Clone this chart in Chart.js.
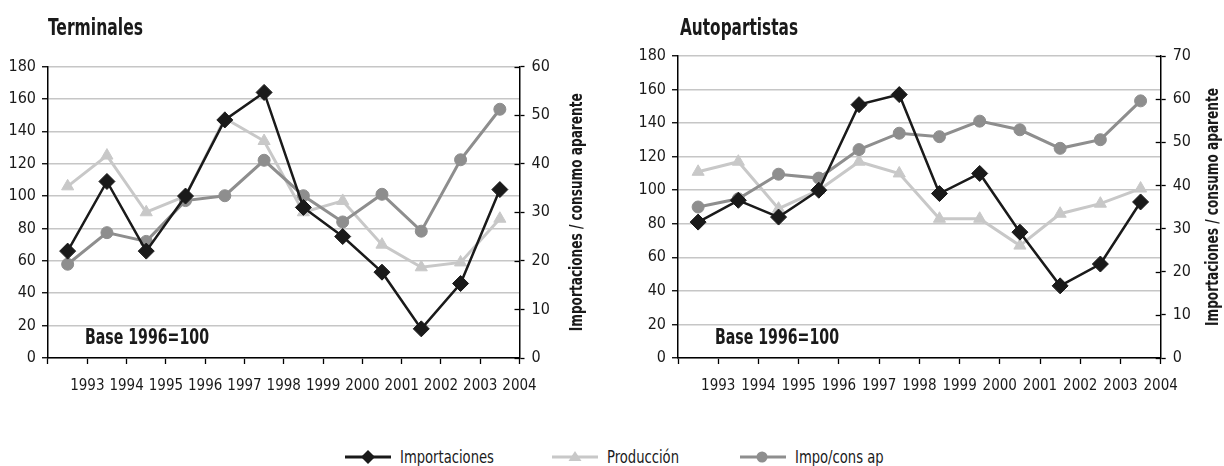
<!DOCTYPE html>
<html>
<head>
<meta charset="utf-8">
<script src="https://cdn.jsdelivr.net/npm/chart.js@4"></script>
<style>
  html, body { margin:0; padding:0; background:#fff; }
  body { width:1224px; height:466px; position:relative; overflow:hidden;
         font-family:'DejaVu Sans Condensed','Liberation Sans',sans-serif; }
  canvas { position:absolute; top:0; }
  #legend { position:absolute; left:0; top:445px; width:1224px; height:24px; }
  .li { position:absolute; top:0; height:24px; display:flex; align-items:center; font-size:17px; color:#1a1a1a; white-space:nowrap; }
  .li svg { margin-right:9px; flex:none; }
  .li span { display:inline-block; transform:scaleX(0.86); transform-origin:left center; }
</style>
</head>
<body>
<canvas id="c1" width="612" height="400" style="left:0"></canvas>
<canvas id="c2" width="612" height="400" style="left:612px"></canvas>
<div id="legend"></div>
<script>
// ---------- DATA ----------
const years = ['1993','1994','1995','1996','1997','1998','1999','2000','2001','2002','2003','2004'];
const seriesNames = ['Importaciones','Producción','Impo/cons ap'];

const termTitle = 'Terminales';
const termImport = [66, 109, 66, 100, 147, 164, 93, 75, 53, 18, 46, 104];
const termProd   = [106, 125, 90, 100, 148, 134, 90, 97, 70, 56, 59, 86];
const termRatio  = [19.3, 25.8, 24.0, 32.4, 33.4, 40.7, 33.4, 28.0, 33.7, 26.1, 40.8, 51.2];

const autoTitle = 'Autopartistas';
const autoImport = [81, 94, 84, 100, 151, 157, 98, 110, 75, 43, 56, 93];
const autoProd   = [111, 117, 89, 100, 117, 110, 83, 83, 67, 86, 92, 101];
const autoRatio  = [35.0, 36.9, 42.6, 41.7, 48.3, 52.1, 51.3, 54.9, 52.9, 48.6, 50.6, 59.6];

const leftTicks = {min:0, max:180, step:20};
const termRightTicks = {min:0, max:60, step:10};
const autoRightTicks = {min:0, max:70, step:10};
const baseNote = 'Base 1996=100';
const rightAxisTitle = 'Importaciones / consumo aparente';

// ---------- STYLE ----------
const FONT = "'DejaVu Sans Condensed','Liberation Sans',sans-serif";
const C_IMP = '#1a1a1a', C_PROD = '#c8c8c8', C_RATIO = '#8e8e8e', C_GRID = '#c6c6c6';
Chart.defaults.font.family = FONT;
Chart.defaults.color = '#1a1a1a';

const panelText = {
  id: 'panelText',
  afterDraw(chart, args, o) {
    const {ctx, chartArea: a, scales} = chart;
    ctx.save();
    ctx.fillStyle = '#1a1a1a';
    ctx.textBaseline = 'alphabetic';
    ctx.textAlign = 'left';
    ctx.font = 'bold 23px ' + FONT;
    ctx.fillText(o.title, a.left + o.titleDx, 35, o.titleW);
    ctx.font = 'bold 21px ' + FONT;
    ctx.fillText(baseNote, a.left + 37, 344, 124);
    ctx.translate(o.axisTitleX, (a.top + a.bottom) / 2);
    ctx.rotate(-Math.PI / 2);
    ctx.textAlign = 'center';
    ctx.textBaseline = 'middle';
    ctx.font = 'bold 18px ' + FONT;
    ctx.fillText(rightAxisTitle, 0, 0, 238);
    ctx.restore();
    // inner half of the crossing ticks on the right axis
    const y1 = scales.y1;
    ctx.save();
    ctx.strokeStyle = '#000';
    ctx.lineWidth = 1.3;
    y1.ticks.forEach((t, i) => {
      const y = Math.round(y1.getPixelForTick(i)) + 0.5;
      ctx.beginPath(); ctx.moveTo(y1.left - 5, y); ctx.lineTo(y1.left, y); ctx.stroke();
    });
    ctx.restore();
  }
};

function makeChart(id, imp, prod, ratio, rt, geo, title) {
  return new Chart(document.getElementById(id), {
    type: 'line',
    data: {
      labels: years,
      datasets: [
        { label: seriesNames[0], data: imp, yAxisID: 'y', order: 0,
          borderColor: C_IMP, backgroundColor: C_IMP, borderWidth: 2.5,
          pointStyle: 'rectRot', pointRadius: 8, pointBorderWidth: 1, tension: 0 },
        { label: seriesNames[1], data: prod, yAxisID: 'y', order: 2,
          borderColor: C_PROD, backgroundColor: C_PROD, borderWidth: 3,
          pointStyle: 'triangle', pointRadius: 7, pointBorderWidth: 1, tension: 0 },
        { label: seriesNames[2], data: ratio, yAxisID: 'y1', order: 1,
          borderColor: C_RATIO, backgroundColor: C_RATIO, borderWidth: 3,
          pointStyle: 'circle', pointRadius: 6, pointBorderWidth: 1, tension: 0 }
      ]
    },
    options: {
      responsive: false,
      animation: false,
      devicePixelRatio: 1,
      layout: { padding: { left: 0, right: 0, top: geo.top, bottom: 2 } },
      plugins: { legend: { display: false }, tooltip: { enabled: false },
                 panelText: { title: title, titleDx: geo.titleDx, titleW: geo.titleW, axisTitleX: geo.axisTitleX } },
      scales: {
        x: {
          type: 'category', offset: true,
          grid: { offset: true, drawOnChartArea: false, tickLength: 6, tickColor: '#000', tickWidth: 1.3 },
          border: { color: '#000', width: 1.5 },
          ticks: { autoSkip: false, maxRotation: 0, minRotation: 0, labelOffset: geo.labelOffset,
                   padding: 13, font: { size: 15 }, color: '#1a1a1a' },
          afterFit: s => { s.height = 40; }
        },
        y: {
          position: 'left', min: leftTicks.min, max: leftTicks.max,
          grid: { color: C_GRID, lineWidth: 1.5, tickLength: 6, tickColor: '#000', tickWidth: 1.3 },
          border: { color: '#000', width: 1.5 },
          ticks: { stepSize: leftTicks.step, padding: 6, font: { size: 16 }, color: '#1a1a1a' },
          afterFit: s => { s.width = geo.leftW; }
        },
        y1: {
          position: 'right', min: rt.min, max: rt.max,
          grid: { drawOnChartArea: false, tickLength: 5, tickColor: '#000', tickWidth: 1.3 },
          border: { color: '#000', width: 1.5 },
          ticks: { stepSize: rt.step, padding: 7, font: { size: 16 }, color: '#1a1a1a' },
          afterFit: s => { s.width = geo.rightW; }
        }
      }
    },
    plugins: [panelText]
  });
}

makeChart('c1', termImport, termProd, termRatio, termRightTicks,
  { top: 66.5, leftW: 48, rightW: 92.5, labelOffset: 19.65, titleDx: 0, titleW: 95, axisTitleX: 577 }, termTitle);
makeChart('c2', autoImport, autoProd, autoRatio, autoRightTicks,
  { top: 56, leftW: 66, rightW: 63.3, labelOffset: 20.1, titleDx: 2, titleW: 118, axisTitleX: 601 }, autoTitle);

// ---------- LEGEND ----------
const legendItems = [
  { name: seriesNames[0], x: 345, color: C_IMP,
    mark: '<polygon points="23,4 30,11 23,18 16,11" fill="' + C_IMP + '"/>' },
  { name: seriesNames[1], x: 552, color: C_PROD,
    mark: '<polygon points="23,5 29.5,15 16.5,15" fill="' + C_PROD + '"/>' },
  { name: seriesNames[2], x: 740, color: C_RATIO,
    mark: '<circle cx="22" cy="11" r="5.5" fill="' + C_RATIO + '"/>' }
];
const lg = document.getElementById('legend');
legendItems.forEach(it => {
  const d = document.createElement('div');
  d.className = 'li';
  d.style.left = it.x + 'px';
  d.innerHTML = '<svg width="46" height="22" viewBox="0 0 46 22"><line x1="0" y1="11" x2="46" y2="11" stroke="' +
    it.color + '" stroke-width="3"/>' + it.mark + '</svg><span></span>';
  d.querySelector('span').textContent = it.name;
  lg.appendChild(d);
});
</script>
</body>
</html>
